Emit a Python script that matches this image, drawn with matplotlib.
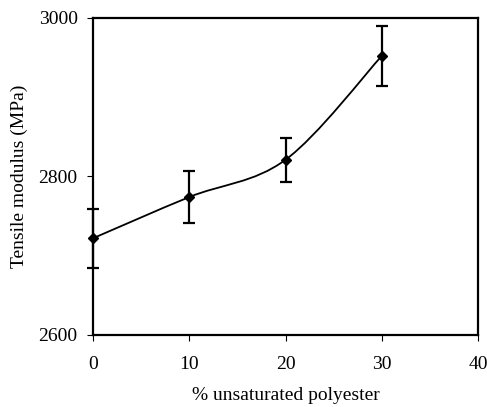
import matplotlib.pyplot as plt
from matplotlib.path import Path
from matplotlib.patches import PathPatch
import numpy as np

# % unsaturated polyester vs tensile modulus
polyester = [0, 10, 20, 30]
modulus = [2722, 2774, 2821, 2952]
err = [37, 33, 28, 38]

plt.rcParams['font.family'] = ['Liberation Serif', 'DejaVu Serif']

fig = plt.figure(figsize=(4.87, 4.07), dpi=100)
ax = fig.add_axes([0.191, 0.177, 0.7905, 0.779])

# smoothed line through the points (Catmull-Rom style bezier, like a spreadsheet "smoothed line")
pts = np.column_stack([polyester, modulus]).astype(float)
verts = [tuple(pts[0])]
codes = [Path.MOVETO]
n = len(pts)
for i in range(n - 1):
    p0 = pts[max(i - 1, 0)]
    p1 = pts[i]
    p2 = pts[i + 1]
    p3 = pts[min(i + 2, n - 1)]
    c1 = p1 + (p2 - p0) / 6.0
    c2 = p2 - (p3 - p1) / 6.0
    verts += [tuple(c1), tuple(c2), tuple(p2)]
    codes += [Path.CURVE4] * 3
ax.add_patch(PathPatch(Path(verts, codes), fill=False, lw=1.3, color='black', zorder=3))

ax.errorbar(polyester, modulus, yerr=err, fmt='D', color='black', ms=5,
            ecolor='black', elinewidth=1.6, capsize=4, capthick=1.6, zorder=4,
            clip_on=False)

ax.set_xlim(0, 40)
ax.set_ylim(2600, 3000)
ax.set_xticks([0, 10, 20, 30, 40])
ax.set_yticks([2600, 2800, 3000])
for s in ax.spines.values():
    s.set_linewidth(1.6)
ax.tick_params(direction='out', length=4, width=0.8, labelsize=14)
ax.tick_params(axis='y', pad=7)
ax.tick_params(axis='x', pad=11)

ax.set_xlabel('% unsaturated polyester', fontsize=14, labelpad=10)
ax.set_ylabel('Tensile modulus (MPa)', fontsize=14, labelpad=8)

fig.savefig('out.png', dpi=100)
